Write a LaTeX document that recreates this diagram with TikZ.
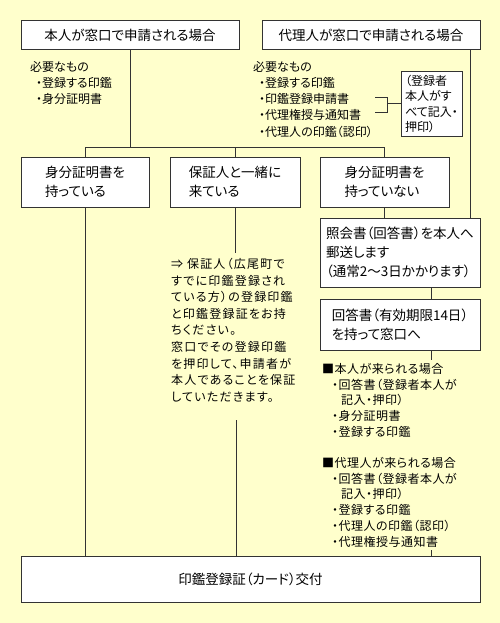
\documentclass[tikz,border=0pt]{standalone}
\usepackage{fontspec}
\setmainfont{Noto Sans CJK JP}[RawFeature=+palt]
\usepackage{tikz}
\usetikzlibrary{positioning}
\definecolor{hbback}{HTML}{FFFFCC}
\definecolor{hbline}{HTML}{333333}
\newcommand{\boxfont}{\fontsize{13.5}{19}\selectfont}
\newcommand{\listfont}{\fontsize{12}{16.2}\selectfont}
\newcommand{\guidefont}{\fontsize{12}{16.6}\selectfont\addfontfeature{LetterSpace=10}}
\newcommand{\needsfont}{\fontsize{12}{15.7}\selectfont\addfontfeature{LetterSpace=4}}
\tikzstyle{box} = [rectangle, draw=hbline, line width=1pt, fill=white,
    align=left, font=\boxfont, inner sep=2pt]
\tikzstyle{memobox} = [rectangle, draw=hbline, line width=1pt, fill=white,
    align=left, font=\fontsize{12}{15.3}\selectfont, inner sep=3pt,
    minimum width=61pt, minimum height=64pt]
\tikzstyle{itemlist} = [align=left, inner sep=0pt, anchor=north west, font=\listfont]
\tikzstyle{link} = [draw=hbline, line width=1pt]

\begin{document}
\begin{tikzpicture}[x=1pt,y=-1pt]
\fill[hbback] (0,0) rectangle (500,623);
\useasboundingbox (0,0) rectangle (500,623);

% top row
\node[box, minimum width=218pt, minimum height=29pt] (honnin) at (130,35) {本人が窓口で申請される場合};
\node[box, minimum width=218pt, minimum height=29pt] (dairi) at (371,35) {代理人が窓口で申請される場合};

\node[itemlist] (needl) at (30,61) {必要なもの\\\hspace*{6pt}・登録する印鑑\\\hspace*{6pt}・身分証明書};
\node[itemlist] (needr) at (253,61) {必要なもの\\\hspace*{6pt}・登録する印鑑\\\hspace*{6pt}・印鑑登録申請書\\\hspace*{6pt}・代理権授与通知書\\\hspace*{6pt}・代理人の印鑑（認印）};
\node[memobox] (memo) at (431.5,104) {（登録者\\本人がす\\べて記入・\\押印）};

% second row
\node[box, minimum width=128pt, minimum height=50pt] (boxa) at (85,182) {身分証明書を\\持っている};
\node[box, minimum width=130pt, minimum height=50pt] (boxb) at (235,182) {保証人と一緒に\\来ている};
\node[box, minimum width=129pt, minimum height=50pt] (boxc) at (384.5,182) {身分証明書を\\持っていない};

\node[box, minimum width=160pt, minimum height=69pt] (shokai) at (400,252.5) {照会書（回答書）を本人へ\\郵送します\\（通常2〜3日かかります）};
\node[box, minimum width=160pt, minimum height=51pt, below=11pt of shokai] (kaitou) {回答書（有効期限14日）\\を持って窓口へ};

\node[itemlist, font=\guidefont, inner xsep=0pt, inner ysep=5pt] (guide) at (171,253)
  {⇒ 保証人（広尾町で\\すでに印鑑登録され\\ている方）の登録印鑑\\と印鑑登録証をお持\\ちください。\\窓口でその登録印鑑\\を押印して、申請者が\\本人であることを保証\\していただきます。};
\node[itemlist, font=\needsfont, inner ysep=3pt] (needs) at (322,360)
  {■本人が来られる場合\\\hspace*{10pt}・回答書（登録者本人が\\\hspace*{19pt}記入・押印）\\\hspace*{10pt}・身分証明書\\\hspace*{10pt}・登録する印鑑\\[15.7pt]
   ■代理人が来られる場合\\\hspace*{10pt}・回答書（登録者本人が\\\hspace*{19pt}記入・押印）\\\hspace*{10pt}・登録する印鑑\\\hspace*{10pt}・代理人の印鑑（認印）\\\hspace*{10pt}・代理権授与通知書};

% bottom
\node[box, align=center, minimum width=459pt, minimum height=46pt] (koufu) at (250.5,579) {印鑑登録証（カード）交付};

% connectors
\coordinate (fork) at (130,147);
\draw[link] (honnin) -- (fork);
\draw[link] (boxa) -- (boxa |- fork) -- (boxc |- fork) -- (boxc);
\draw[link] (boxb) -- (boxb |- fork);
\draw[link] ([xshift=-10pt]dairi.south east) -- ([xshift=-10pt]shokai.north east);
\draw[link] (boxc) -- (boxc |- shokai.north);

\coordinate (rcol) at (431,0);
\draw[link] (shokai.south -| rcol) -- (kaitou.north -| rcol);
\draw[link] (kaitou.south -| rcol) -- (needs.north -| rcol);
\draw[link] (needs.south -| rcol) -- (koufu.north -| rcol);

\draw[link] (boxa) -- (boxa |- koufu.north);
\draw[link] (boxb) -- (boxb |- guide.north);
\coordinate (guideend) at (236,420);
\draw[link] (guideend) -- (guideend |- koufu.north);

% bracket to the memo
\coordinate (brtop) at (375,98);
\coordinate (brbot) at (375,113);
\draw[link] (brtop) -- ++(12pt,0) |- (brbot);
\draw[link] (memo.west) -- ++(-14pt,0);
\end{tikzpicture}
\end{document}
